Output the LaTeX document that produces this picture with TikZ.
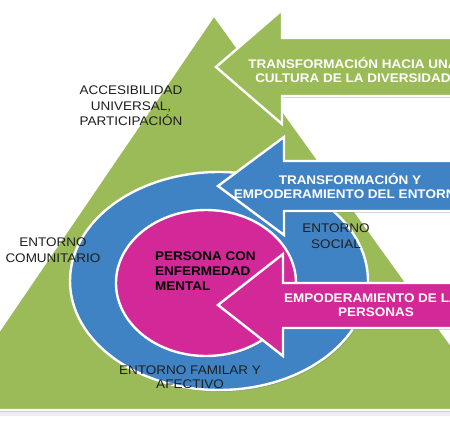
\documentclass[tikz,border=0pt]{standalone}
\usepackage{fontspec}
\setmainfont{Liberation Sans}[FakeStretch=1.08]
\usetikzlibrary{shadows}
\definecolor{grn}{RGB}{155,187,89}
\definecolor{blu}{RGB}{64,131,196}
\definecolor{pnk}{RGB}{211,41,152}
\definecolor{lbltxt}{RGB}{30,30,30}
\tikzset{
  shp/.style={draw=white, line width=2.4pt, line join=miter,
    drop shadow={shadow xshift=1.2pt, shadow yshift=-1.8pt, opacity=0.3, fill=black!60}},
  lbl/.style={font=\fontsize{12.5}{15.5}\selectfont, text=lbltxt, align=center, inner sep=0pt},
  arrtxt/.style={font=\bfseries\fontsize{12.5}{14}\selectfont, text=white, align=center, inner sep=0pt},
  boldlbl/.style={font=\bfseries\fontsize{12.5}{15}\selectfont, text=black, align=left, inner sep=0pt}
}
\begin{document}
\begin{tikzpicture}[x=1pt,y=-1pt]
\useasboundingbox (0,0) rectangle (450,425);
\clip (0,0) rectangle (450,425);
\fill[white] (0,0) rectangle (450,425);
\fill[black!7] (0,410) rectangle (450,416);
% triangle
\fill[grn, shp] (214,15) -- (498,410) -- (-55,410) -- cycle;
% ellipses
\fill[blu, shp] (219,281) ellipse [x radius=149, y radius=109];
\fill[pnk, shp] (206,283) ellipse [x radius=90, y radius=73];
% arrows
\fill[grn, shp] (216,67) -- (282,10) -- (282,38) -- (470,38) -- (470,96) -- (282,96) -- (282,124) -- cycle;
\fill[blu, shp] (218,186) -- (284,137) -- (284,161) -- (470,161) -- (470,211) -- (284,211) -- (284,235) -- cycle;
\fill[pnk, shp] (218,305) -- (283,254) -- (283,283) -- (470,283) -- (470,328) -- (283,328) -- (283,356) -- cycle;
% labels
\node[lbl] (acc) at (131,106) {ACCESIBILIDAD\\UNIVERSAL,\\PARTICIPACIÓN};
\node[lbl] (com) at (53,250) {ENTORNO\\COMUNITARIO};
\node[lbl] (soc) at (336,236) {ENTORNO\\SOCIAL};
\node[lbl, font=\fontsize{12.5}{13.5}\selectfont] (fam) at (190,377) {ENTORNO FAMILAR Y\\AFECTIVO};
\node[boldlbl, anchor=west] (per) at (155,271) {PERSONA CON\\ENFERMEDAD\\MENTAL};
\node[arrtxt] (t1) at (353,70) {TRANSFORMACIÓN HACIA UNA\\CULTURA DE LA DIVERSIDAD};
\node[arrtxt] (t2) at (350,186) {TRANSFORMACIÓN Y\\EMPODERAMIENTO DEL ENTORNO};
\node[arrtxt] (t3) at (376,305) {EMPODERAMIENTO DE LAS\\PERSONAS};
\end{tikzpicture}
\end{document}
